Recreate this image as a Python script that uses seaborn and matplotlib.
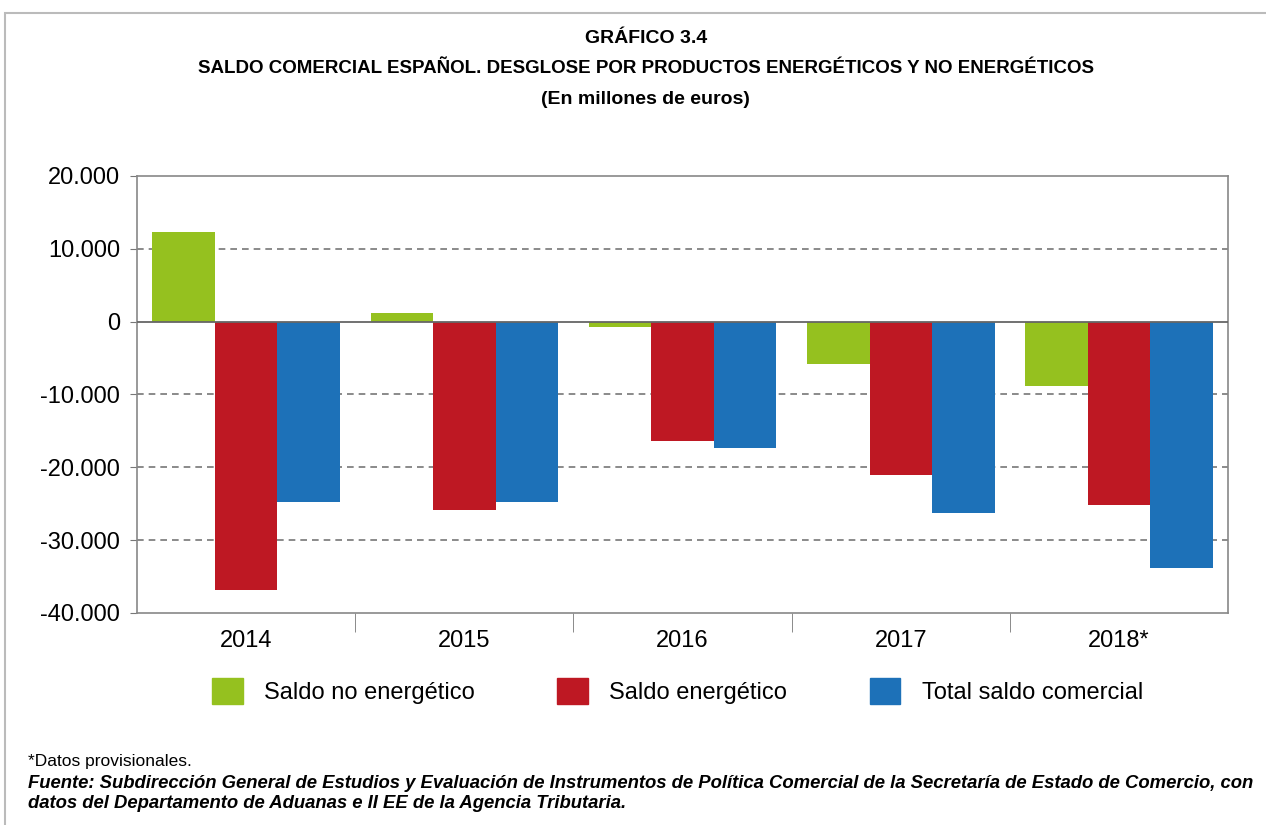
import pandas as pd
import matplotlib.pyplot as plt
import matplotlib.patches as mpatches
import seaborn as sns

years = ['2014', '2015', '2016', '2017', '2018*']
series = ['Saldo no energético', 'Saldo energético', 'Total saldo comercial']
no_energetico = [12300, 1200, -700, -5800, -8900]
energetico = [-36800, -25800, -16400, -21000, -25200]
total = [-24800, -24800, -17400, -26300, -33800]
colors = ['#95C11F', '#BE1823', '#1D71B8']

df = pd.DataFrame({
    'year': years * 3,
    'serie': [series[0]] * 5 + [series[1]] * 5 + [series[2]] * 5,
    'value': no_energetico + energetico + total,
})

sns.set_style('white')
plt.rcParams['font.family'] = ['Liberation Sans', 'DejaVu Sans']
plt.rcParams['text.color'] = 'black'
plt.rcParams['xtick.color'] = 'black'
plt.rcParams['ytick.color'] = 'black'

fig = plt.figure(figsize=(12.66, 8.25), dpi=100)
ax = fig.add_axes([0.1082, 0.257, 0.862, 0.5297])

sns.barplot(data=df, x='year', y='value', hue='serie', palette=colors,
            width=0.86, saturation=1, linewidth=0, ax=ax, legend=False)

ax.set_ylim(-40000, 20000)
ax.set_xlim(-0.5, 4.5)
ax.set_yticks(range(-40000, 20001, 10000))
ax.set_yticklabels([f'{v:,}'.replace(',', '.') for v in range(-40000, 20001, 10000)],
                   fontsize=17)
ax.tick_params(axis='y', direction='out', length=5, color='#777777', pad=7, left=True)
ax.tick_params(axis='x', which='major', length=0, labelsize=17, pad=12)
ax.set_xticks([0.5, 1.5, 2.5, 3.5], minor=True)
ax.tick_params(axis='x', which='minor', direction='out', length=14, color='#777777', bottom=True)
ax.set_xlabel('')
ax.set_ylabel('')

for v in [10000, -10000, -20000, -30000]:
    ax.axhline(v, color='#777777', linestyle=(0, (4, 3)), linewidth=1.2, zorder=0)
ax.axhline(0, color='#666666', linewidth=1.3, zorder=3)
for s in ax.spines.values():
    s.set_color('#888888')
    s.set_linewidth(1.2)

handles = [mpatches.Patch(color=c, label=l) for c, l in zip(colors, series)]
fig.legend(handles=handles, loc='center', bbox_to_anchor=(0.535, 0.162), ncol=3,
           frameon=False, fontsize=17, handlelength=1.3, handleheight=1.3,
           columnspacing=3.5, handletextpad=0.9)

fig.text(0.51, 0.948, 'GRÁFICO 3.4', ha='center', fontsize=14, fontweight='bold')
fig.text(0.51, 0.912, 'SALDO COMERCIAL ESPAÑOL. DESGLOSE POR PRODUCTOS ENERGÉTICOS Y NO ENERGÉTICOS',
         ha='center', fontsize=13.5, fontweight='bold')
fig.text(0.51, 0.874, '(En millones de euros)', ha='center', fontsize=14, fontweight='bold')

fig.text(0.022, 0.071, '*Datos provisionales.', fontsize=12.5)
fig.text(0.022, 0.045, 'Fuente: Subdirección General de Estudios y Evaluación de Instrumentos de Política '
         'Comercial de la Secretaría de Estado de Comercio, con', fontsize=13.3, fontweight='bold',
         style='italic')
fig.text(0.022, 0.021, 'datos del Departamento de Aduanas e II EE de la Agencia Tributaria.',
         fontsize=13.3, fontweight='bold', style='italic')

border = mpatches.Rectangle((0.004, -0.1), 1.2, 1.084, transform=fig.transFigure,
                            fill=False, edgecolor='#BBBBBB', linewidth=1.5)
fig.patches.append(border)

fig.savefig('out.png', dpi=100)
